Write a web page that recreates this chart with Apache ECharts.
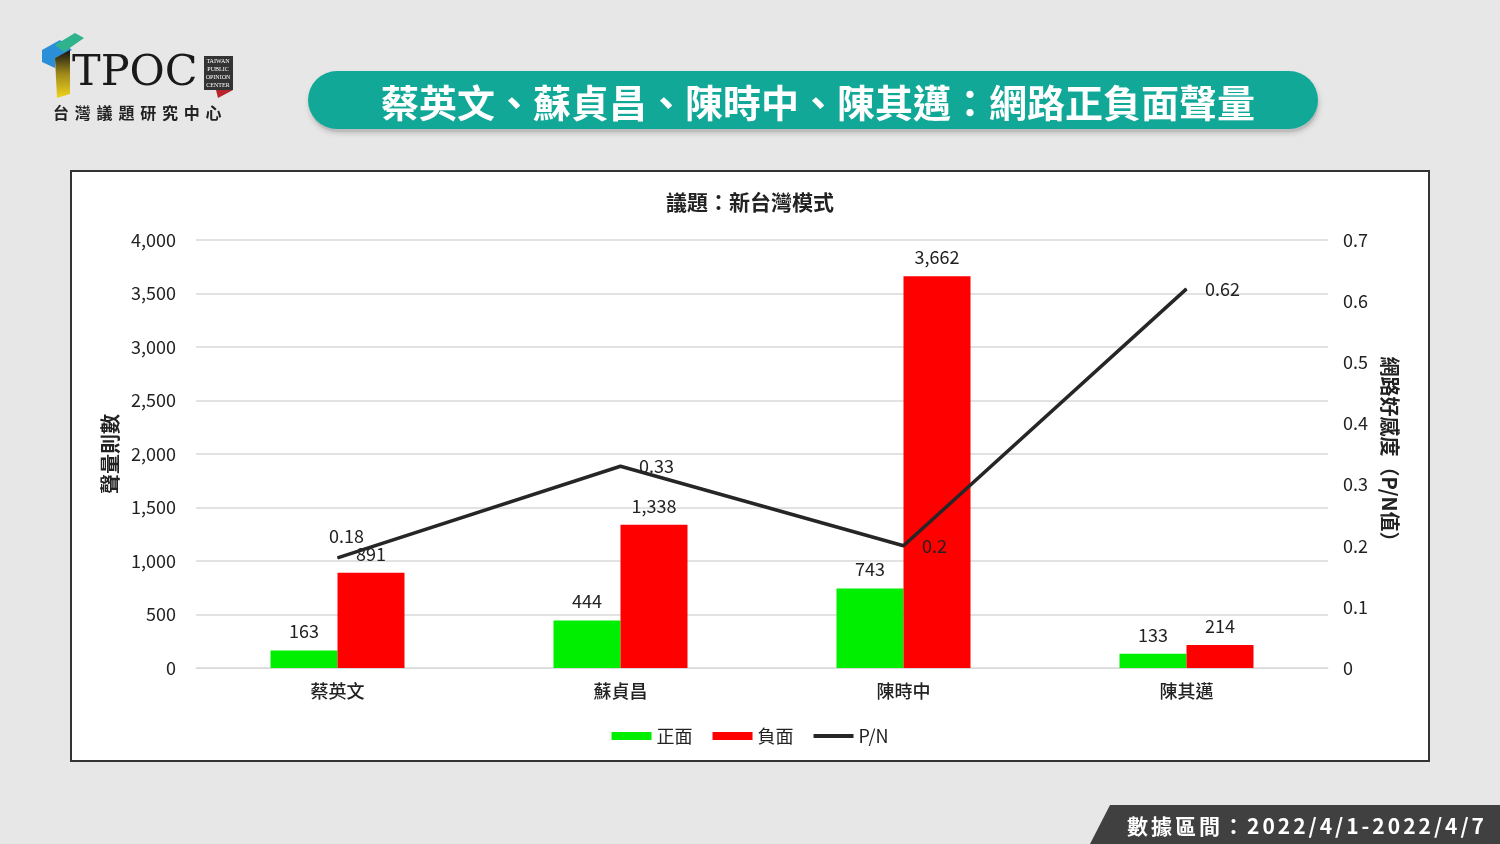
<!DOCTYPE html>
<html>
<head>
<meta charset="utf-8">
<script src="https://cdn.jsdelivr.net/npm/echarts@6/dist/echarts.min.js"></script>
<style>
  html, body { margin: 0; padding: 0; background: #e7e7e7; }
  #charts { position: absolute; left: 0; top: 0; width: 1500px; height: 844px; }
  .badge {
    position: absolute; left: 1127px; top: 810px;
    font-family: "Noto Sans CJK TC", sans-serif; font-weight: bold;
    font-size: 21px; color: #fff; letter-spacing: 3px; line-height: 30px;
  }
  .sub {
    position: absolute; left: 53px; top: 101px;
    font-family: "Noto Sans CJK TC", sans-serif; font-weight: bold;
    font-size: 16px; color: #222; letter-spacing: 5.8px; line-height: 22px;
  }
</style>
</head>
<body>
<div id="charts"></div>
<div class="sub">台灣議題研究中心</div>
<div class="badge">數據區間：2022/4/1-2022/4/7</div>
<script>
var names = ['蔡英文', '蘇貞昌', '陳時中', '陳其邁'];
var positive = [163, 444, 743, 133];
var negative = [891, 1338, 3662, 214];
var pnRatio = [0.18, 0.33, 0.2, 0.62];

var chartDom = document.getElementById('charts');
var myChart = echarts.init(chartDom);
var font = '"Noto Sans CJK TC", sans-serif';

// P/N 標籤位置
var pnLabelPos = ['top', 'right', 'right', 'right'];
var pnData = pnRatio.map(function (v, i) {
  return { value: v, label: i == 0
    ? { position: 'top', distance: 12, offset: [9, 0] }
    : { position: pnLabelPos[i], distance: 18 } };
});

function thousands(p) { return Number(p.value).toLocaleString('en-US'); }

var option = {
  backgroundColor: '#e7e7e7',
  textStyle: { fontFamily: font },
  graphic: [
    // 圖表外框
    { type: 'rect', shape: { x: 71, y: 171, width: 1358, height: 590 },
      style: { fill: '#fff', stroke: '#333', lineWidth: 2 }, z: -10 },
    // 標題膠囊
    { type: 'rect', shape: { x: 310, y: 76, width: 1008, height: 56, r: 28 },
      style: { fill: '#bdbdbd', shadowBlur: 6, shadowColor: 'rgba(0,0,0,0.25)' }, z: -9 },
    { type: 'rect', shape: { x: 308, y: 71, width: 1010, height: 58, r: 29 },
      style: { fill: '#11a898' }, z: -8 },
    { type: 'text', x: 818, y: 103, z: -7,
      style: { text: '蔡英文、蘇貞昌、陳時中、陳其邁：網路正負面聲量', fill: '#fff',
        font: 'bold 38px ' + font, textAlign: 'center', textVerticalAlign: 'middle' } },
    // 底部數據區間
    { type: 'polygon', shape: { points: [[1110, 805], [1500, 805], [1500, 844], [1090, 844]] },
      style: { fill: '#404040' }, z: -9 },
    // logo
    { type: 'polygon', shape: { points: [[42, 50], [60, 40], [72, 50], [55, 58], [55, 68], [42, 62]] },
      style: { fill: '#2a8fd6' }, z: -9 },
    { type: 'polygon', shape: { points: [[55, 45], [75, 33], [84, 38], [64, 52]] },
      style: { fill: '#2fb38c' }, z: -9 },
    { type: 'polygon', shape: { points: [[55, 58], [70, 50], [70, 94], [57, 98]] },
      style: { fill: new echarts.graphic.LinearGradient(0, 0, 0, 1,
        [{ offset: 0, color: '#111' }, { offset: 0.5, color: '#a08a1a' }, { offset: 1, color: '#f2d31c' }]) }, z: -9 },
    { type: 'text', x: 72, y: 74, z: -7,
      style: { text: 'TPOC', fill: '#1a1a1a', font: '43px "DejaVu Serif", "Liberation Serif", serif',
        textVerticalAlign: 'middle' } },
    { type: 'rect', shape: { x: 204, y: 56, width: 29, height: 34 }, style: { fill: '#333' }, z: -9 },
    { type: 'polygon', shape: { points: [[216, 90], [233, 90], [218, 98]] }, style: { fill: '#b8242a' }, z: -9 },
    { type: 'text', x: 218, y: 73, z: -7,
      style: { text: 'TAIWAN\nPUBLIC\nOPINION\nCENTER', fill: '#fff', font: '6px "Liberation Serif", serif',
        textAlign: 'center', textVerticalAlign: 'middle', lineHeight: 8 } }
  ],
  title: {
    text: '議題：新台灣模式',
    left: 'center',
    top: 187,
    textStyle: { fontSize: 21, fontWeight: 'bold', color: '#222', fontFamily: font }
  },
  legend: {
    top: 722,
    left: 'center',
    itemWidth: 40,
    itemHeight: 8,
    itemGap: 20,
    textStyle: { fontSize: 18, color: '#222', fontFamily: font },
    data: [
      { name: '正面', icon: 'rect' },
      { name: '負面', icon: 'rect' },
      { name: 'P/N', icon: 'path://M0,0 L40,0 L40,4 L0,4 Z' }
    ]
  },
  grid: { left: 196, right: 172, top: 240, bottom: 176 },
  xAxis: {
    type: 'category',
    data: names,
    axisLine: { lineStyle: { color: '#d9d9d9', width: 1 } },
    axisTick: { show: false },
    axisLabel: { fontSize: 18, fontWeight: 500, color: '#222', margin: 14, fontFamily: font }
  },
  yAxis: [
    {
      type: 'value',
      min: 0,
      max: 4000,
      interval: 500,
      name: '聲量則數',
      nameLocation: 'middle',
      nameGap: 74,
      nameTextStyle: { fontSize: 20, fontWeight: 'bold', color: '#222', fontFamily: font },
      axisLabel: {
        fontSize: 18, color: '#222', margin: 20,
        formatter: function (v) { return v.toLocaleString('en-US'); }
      },
      splitLine: { lineStyle: { color: '#d9d9d9', width: 1.5 } }
    },
    {
      type: 'value',
      min: 0,
      max: 0.7,
      interval: 0.1,
      name: '網路好感度（P/N值）',
      nameLocation: 'middle',
      nameRotate: -90,
      nameGap: 52,
      nameTextStyle: { fontSize: 20, fontWeight: 'bold', color: '#222', fontFamily: font },
      axisLabel: {
        fontSize: 18, color: '#222', margin: 15,
        formatter: function (v) { return v === 0 ? '0' : v.toFixed(1); }
      },
      splitLine: { show: false }
    }
  ],
  series: [
    {
      name: '正面',
      type: 'bar',
      data: positive,
      barWidth: 67,
      barGap: '0%',
      itemStyle: { color: '#00ee00' },
      label: { show: true, position: 'top', fontSize: 18, color: '#222', distance: 10, formatter: thousands }
    },
    {
      name: '負面',
      type: 'bar',
      data: negative,
      barWidth: 67,
      itemStyle: { color: '#ff0000' },
      label: { show: true, position: 'top', fontSize: 18, color: '#222', distance: 10, formatter: thousands }
    },
    {
      name: 'P/N',
      type: 'line',
      yAxisIndex: 1,
      data: pnData,
      symbol: 'circle',
      symbolSize: 1,
      showSymbol: true,
      lineStyle: { color: '#262626', width: 3.5 },
      itemStyle: { color: '#262626' },
      label: { show: true, fontSize: 18, color: '#222' },
      z: 5
    }
  ]
};

myChart.setOption(option);
</script>
</body>
</html>
